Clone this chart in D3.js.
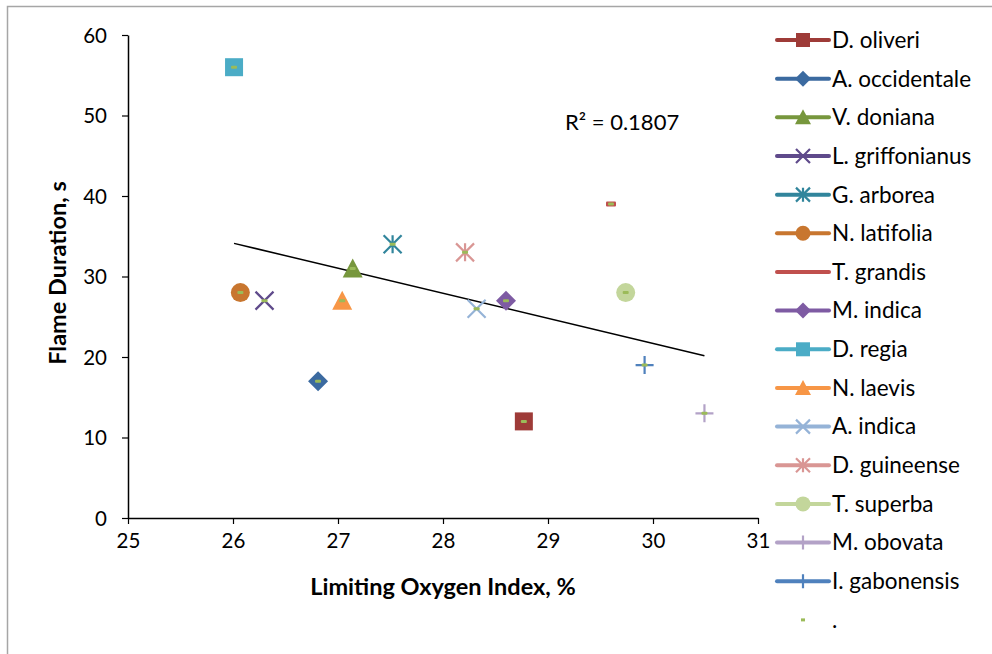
<!DOCTYPE html>
<html><head><meta charset="utf-8">
<script src="https://cdn.jsdelivr.net/npm/d3@7"></script>
<style>
html,body{margin:0;padding:0;background:#fff;}
svg text{font-family:Lato,"Open Sans",sans-serif;fill:#000;}
</style></head>
<body>
<svg id="c" width="992" height="654"></svg>
<script>
const species = ["D. oliveri","A. occidentale","V. doniana","L. griffonianus","G. arborea","N. latifolia","T. grandis","M. indica","D. regia","N. laevis","A. indica","D. guineense","T. superba","M. obovata","I. gabonensis"];
const loiValues = [28.77,26.81,27.14,26.30,27.52,26.07,29.60,28.60,26.01,27.04,28.32,28.21,29.74,30.49,29.92];
const flameValues = [12,17,31,27,34,28,39,27,56,27,26,33,28,13,19];
const colors = ["#9E3B38","#3B6AA0","#77973D","#5F4A8B","#31859C","#C8762F","#C0504D","#7E5BA3","#4BACC6","#F79646","#95B3D7","#D99694","#C3D69B","#B3A2C7","#4F81BD"];
const shapes = ["square","diamond","triangle","x","asterisk","circle","dash","diamond","square","triangle","x","asterisk","circle","plus","plus"];
const xTicks = [25,26,27,28,29,30,31];
const yTicks = [0,10,20,30,40,50,60];
const r2Label = "R² = 0.1807";
const dotColor = "#9BBB59";

const svg = d3.select("#c");
// outer frame
svg.append("rect").attr("x",7.5).attr("y",6.5).attr("width",1100).attr("height",1000)
  .attr("fill","none").attr("stroke","#a6a6a6").attr("stroke-width",1.5);

const x = d3.scaleLinear().domain([25,31]).range([128,758]);
const y = d3.scaleLinear().domain([0,60]).range([518,35]);

const fs = 20.5;
// axes
const gx = svg.append("g").attr("transform",`translate(0,${y(0)})`)
  .call(d3.axisBottom(x).tickValues(xTicks).tickFormat(d3.format("d")).tickSize(6).tickSizeOuter(0));
const gy = svg.append("g").attr("transform",`translate(${x(25)},0)`)
  .call(d3.axisLeft(y).tickValues(yTicks).tickFormat(d3.format("d")).tickSize(6).tickSizeOuter(0));
[gx,gy].forEach(g=>{
  g.select(".domain").attr("stroke","#000").attr("stroke-width",1.5);
  g.selectAll(".tick line").attr("stroke","#000").attr("stroke-width",1.2);
  g.selectAll(".tick text").attr("font-size",fs).attr("font-family","Lato,'Open Sans',sans-serif").attr("fill","#000");
});
gx.selectAll(".tick text").attr("y",23).attr("dy","0.35em");
gy.selectAll(".tick text").attr("x",-21).attr("dy","0.35em");

svg.append("text").attr("x",443).attr("y",595).attr("text-anchor","middle")
  .attr("font-size",23.5).attr("font-weight","bold").text("Limiting Oxygen Index, %");
svg.append("text").attr("transform","translate(66,273) rotate(-90)").attr("text-anchor","middle")
  .attr("font-size",23.5).attr("font-weight","bold").text("Flame Duration, s");

// trendline (least squares from the data)
const mx = d3.mean(loiValues), my = d3.mean(flameValues);
const slope = d3.sum(loiValues,(v,i)=>(v-mx)*(flameValues[i]-my))/d3.sum(loiValues,v=>(v-mx)*(v-mx));
const icpt = my - slope*mx;
const [xmin,xmax] = d3.extent(loiValues);
svg.append("line").attr("x1",x(xmin)).attr("y1",y(icpt+slope*xmin)).attr("x2",x(xmax)).attr("y2",y(icpt+slope*xmax))
  .attr("stroke","#000").attr("stroke-width",1.5);
svg.append("text").attr("x",565).attr("y",130).attr("font-size",22).text(r2Label);

function drawMarker(g, shape, color, s){
  const h = s/2;
  if(shape==="square") g.append("rect").attr("x",-h).attr("y",-h).attr("width",s).attr("height",s).attr("fill",color);
  else if(shape==="diamond") g.append("path").attr("d",`M0,${-h-1}L${h+1},0L0,${h+1}L${-h-1},0Z`).attr("fill",color);
  else if(shape==="triangle") g.append("path").attr("d",`M0,${-h-1}L${h+1},${h}L${-h-1},${h}Z`).attr("fill",color);
  else if(shape==="circle") g.append("circle").attr("r",h+0.5).attr("fill",color);
  else if(shape==="x") g.append("path").attr("d",`M${-h},${-h}L${h},${h}M${h},${-h}L${-h},${h}`).attr("stroke",color).attr("stroke-width",2.2);
  else if(shape==="asterisk") g.append("path").attr("d",`M${-h},${-h}L${h},${h}M${h},${-h}L${-h},${h}M0,${-h}L0,${h}`).attr("stroke",color).attr("stroke-width",2.2);
  else if(shape==="plus") g.append("path").attr("d",`M${-h},0L${h},0M0,${-h}L0,${h}`).attr("stroke",color).attr("stroke-width",2.2);
  else if(shape==="dash") g.append("rect").attr("x",-5).attr("y",-2.5).attr("width",10).attr("height",5).attr("rx",1).attr("fill",color);
}

// points
species.forEach((sp,i)=>{
  const g = svg.append("g").attr("transform",`translate(${x(loiValues[i])},${y(flameValues[i])})`);
  drawMarker(g, shapes[i], colors[i], 18);
});
// "." series small dash markers
species.forEach((sp,i)=>{
  svg.append("rect").attr("x",x(loiValues[i])-3).attr("y",y(flameValues[i])-1.5).attr("width",6).attr("height",3).attr("rx",1).attr("fill",dotColor);
});

// legend
const ly0 = 40, ldy = 38.66;
const legendNames = species.concat(["."]);
legendNames.forEach((name,i)=>{
  const yy = ly0 + i*ldy;
  const g = svg.append("g").attr("transform",`translate(0,${yy})`);
  if(i < species.length){
    g.append("line").attr("x1",777).attr("x2",829).attr("y1",0).attr("y2",0).attr("stroke",colors[i]).attr("stroke-width",4).attr("stroke-linecap","round");
    const mg = g.append("g").attr("transform","translate(803,0)");
    if(shapes[i]!=="dash") drawMarker(mg, shapes[i], colors[i], 14);
  } else {
    g.append("rect").attr("x",801).attr("y",-1.5).attr("width",4).attr("height",3).attr("fill",dotColor);
  }
  g.append("text").attr("x",832).attr("y",0).attr("dy","0.35em").attr("font-size",22.5).text(name);
});
</script>
</body></html>
